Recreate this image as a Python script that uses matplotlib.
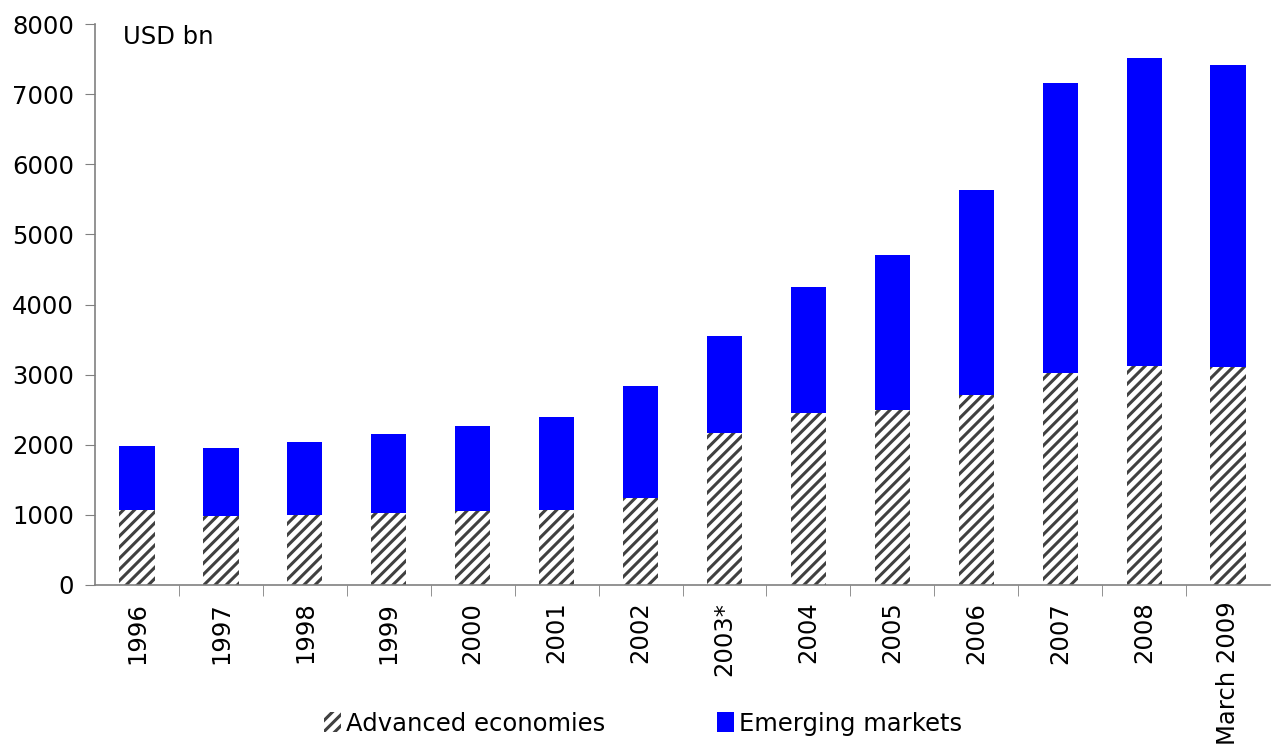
import numpy as np
import matplotlib.pyplot as plt

# Reserves, USD bn
years = ["1996", "1997", "1998", "1999", "2000", "2001", "2002", "2003*",
         "2004", "2005", "2006", "2007", "2008", "March 2009"]
advanced = [1070, 984, 999, 1027, 1056, 1070, 1241, 2168, 2454, 2496, 2710, 3024, 3124, 3110]
totals = [1983, 1954, 2040, 2154, 2268, 2397, 2839, 3552, 4251, 4708, 5635, 7161, 7518, 7418]
emerging = [t - a for t, a in zip(totals, advanced)]

plt.rcParams['font.family'] = 'DejaVu Sans'
plt.rcParams['hatch.linewidth'] = 2.2

fig = plt.figure(figsize=(12.86, 7.5), dpi=100)
ax = fig.add_axes([0.0739, 0.22, 0.9137, 0.748])

x = np.arange(len(years))
ax.bar(x, advanced, width=0.42, color="white", edgecolor="#404040",
       linewidth=0, hatch="///", label="Advanced economies")
ax.bar(x, emerging, width=0.42, bottom=advanced, color="#0000ff",
       linewidth=0, label="Emerging markets")

ax.set_xlim(-0.5, len(years) - 0.5)
ax.set_ylim(0, 8000)
ax.set_yticks(range(0, 8001, 1000))
ax.tick_params(axis="y", labelsize=17.5, length=7, color="#808080",
               direction="out", pad=8)

ax.set_xticks(x)
ax.set_xticklabels(years, rotation=90, fontsize=17.5)
ax.tick_params(axis="x", length=0, pad=12)
ax.set_xticks(np.arange(0.5, len(years) - 0.5, 1), minor=True)
ax.tick_params(axis="x", which="minor", length=8, color="#808080")

for s in ["top", "right"]:
    ax.spines[s].set_visible(False)
for s in ["left", "bottom"]:
    ax.spines[s].set_color("#808080")
    ax.spines[s].set_linewidth(1.2)

ax.text(0.024, 0.977, "USD bn", transform=ax.transAxes, fontsize=17.5, va="center")

fig.legend(loc="center", bbox_to_anchor=(0.5, 0.035), ncol=2, frameon=False,
           fontsize=17.5, handlelength=0.7, handleheight=0.9, handletextpad=0.2,
           columnspacing=4.6)

plt.savefig("out.png", dpi=100)
